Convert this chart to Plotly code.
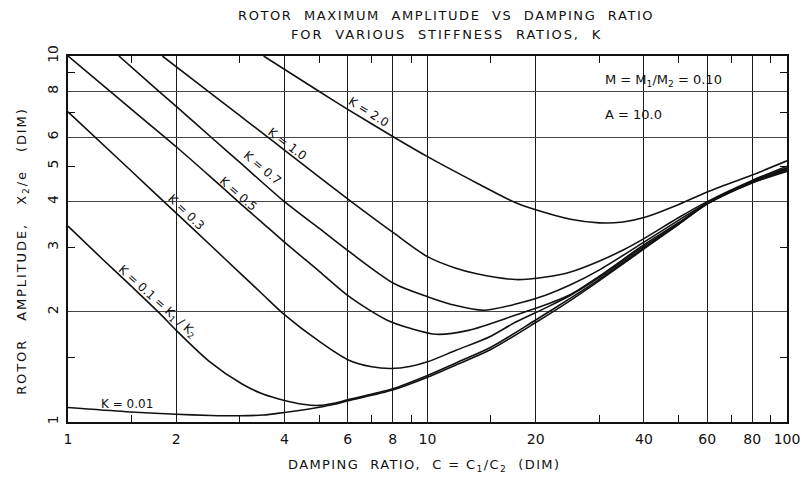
import math
import plotly.graph_objects as go

# ---------------- data ----------------
k20_x = [3.5, 5, 6, 8.07, 10, 13.7, 17.6, 20, 25, 30, 35, 40, 50, 60, 80, 100]
k20_y = [10, 8.0, 7.15, 6.0, 5.31, 4.5, 3.97, 3.8, 3.58, 3.5, 3.52, 3.62, 3.93, 4.25, 4.73, 5.17]

k10_x = [1.83, 2.42, 3.0, 3.55, 4.0, 5.0, 6.06, 8.07, 10, 12, 13.7, 17.6, 21.3, 25, 30, 35, 40, 50, 60, 80, 100]
k10_y = [10, 8.09, 6.88, 6.06, 5.53, 4.67, 4.04, 3.28, 2.83, 2.63, 2.54, 2.45, 2.49, 2.57, 2.75, 2.95, 3.17, 3.62, 4.0, 4.57, 5.0]

k07_x = [1.385, 1.8, 2.0, 2.52, 3.0, 4.0, 5.0, 6.06, 8.07, 10, 12, 14.3, 17.6, 21.3, 25, 30, 40, 50, 60, 80, 100]
k07_y = [10, 7.97, 7.28, 5.96, 5.13, 4.0, 3.38, 2.92, 2.39, 2.2, 2.08, 2.02, 2.1, 2.22, 2.37, 2.6, 3.1, 3.56, 3.97, 4.54, 4.95]

k05_x = [1, 1.3, 1.6, 2, 2.5, 3, 3.5, 4, 5, 6.06, 7.7, 9, 10.6, 13, 17.6, 21.3, 25, 30, 40, 50, 60, 80, 100]
k05_y = [10, 8.06, 6.79, 5.65, 4.66, 3.97, 3.48, 3.1, 2.58, 2.2, 1.9, 1.8, 1.736, 1.78, 1.96, 2.09, 2.23, 2.5, 3.05, 3.51, 3.96, 4.53, 4.92]

k03_x = [1, 1.5, 2, 2.5, 3, 3.5, 4, 5, 6, 7, 7.9, 9, 10, 12, 14.9, 17.6, 21.3, 25, 30, 40, 50, 60, 80, 100]
k03_y = [7.04, 4.85, 3.72, 3.03, 2.56, 2.22, 1.965, 1.66, 1.48, 1.415, 1.40, 1.42, 1.46, 1.57, 1.71, 1.875, 2.05, 2.22, 2.48, 3.02, 3.48, 3.95, 4.51, 4.89]

k01_x = [1, 1.25, 1.5, 1.8, 2, 2.46, 3.05, 3.5, 4, 4.5, 5, 5.5, 6, 8, 10, 12, 15, 20, 25, 30, 40, 50, 60, 80, 100]
k01_y = [3.43, 2.78, 2.35, 1.98, 1.78, 1.47, 1.27, 1.19, 1.145, 1.118, 1.11, 1.125, 1.15, 1.232, 1.34, 1.45, 1.6, 1.9, 2.18, 2.45, 2.99, 3.48, 3.95, 4.51, 4.86]

k001_x = [1, 1.45, 2, 2.5, 3, 3.5, 4, 4.5, 5, 5.5, 6, 8, 10, 12, 15, 20, 25, 30, 40, 50, 60, 80, 100]
k001_y = [1.095, 1.067, 1.05, 1.042, 1.04, 1.045, 1.062, 1.078, 1.097, 1.118, 1.143, 1.223, 1.325, 1.432, 1.578, 1.87, 2.15, 2.43, 2.97, 3.47, 3.94, 4.5, 4.84]

series = [
    (k20_x, k20_y), (k10_x, k10_y), (k07_x, k07_y), (k05_x, k05_y),
    (k03_x, k03_y), (k01_x, k01_y), (k001_x, k001_y),
]

curve_labels = ["K = 2.0", "K = 1.0", "K = 0.7", "K = 0.5", "K = 0.3",
                "K = 0.1 = K<sub>1</sub> / K<sub>2</sub>", "K = 0.01"]
label_x = [6.85, 4.07, 3.47, 2.98, 2.13, 1.77, 1.46]
label_y = [7.01, 5.75, 4.94, 4.2, 3.75, 2.13, 1.12]
label_angle = [32, 37, 40, 41, 44, 42, 0]

x_ticks = [1, 2, 4, 6, 8, 10, 20, 40, 60, 80, 100]
x_minor = [1.5, 3, 5, 7, 9, 15, 30, 50, 70, 90]
y_ticks = [1, 2, 3, 4, 5, 6, 8, 10]
y_grid = [2, 4, 6, 8]
y_minor = [1.5, 3, 5, 7, 9]

FONT = "DejaVu Sans"
INK = "#111111"


def spaced(txt, px):
    return '<span style="letter-spacing:%spx">%s</span>' % (px, txt)


fig = go.Figure()
for xs, ys in series:
    fig.add_trace(go.Scatter(x=xs, y=ys, mode="lines",
                             line=dict(color=INK, width=1.6, shape="spline", smoothing=0.8),
                             showlegend=False, hoverinfo="skip"))

fig.update_layout(
    width=804, height=474, autosize=False,
    margin=dict(l=60, r=19, t=48, b=60),
    paper_bgcolor="white", plot_bgcolor="white",
    font=dict(family=FONT, color=INK, size=13),
    showlegend=False,
    xaxis=dict(type="log", range=[0, 2], tickmode="array", tickvals=x_ticks,
               ticktext=[str(v) for v in x_ticks], ticks="", showgrid=True,
               gridcolor="#1a1a1a", gridwidth=1.2, showline=True, linecolor=INK,
               linewidth=1.5, mirror="ticks", zeroline=False, ticklabelstandoff=3,
               tickfont=dict(family=FONT, size=14, color=INK),
               minor=dict(tickmode="array", tickvals=x_minor, ticks="inside",
                          ticklen=7, tickcolor=INK, tickwidth=1.2, showgrid=False)),
    yaxis=dict(type="log", range=[0, 1], tickmode="array", tickvals=y_ticks,
               ticktext=[str(v) for v in y_ticks], tickangle=-90, ticks="",
               showgrid=False, showline=True, linecolor=INK, linewidth=1.5,
               mirror="ticks", zeroline=False, ticklabelstandoff=3,
               tickfont=dict(family=FONT, size=14, color=INK),
               minor=dict(tickmode="array", tickvals=y_minor, ticks="inside",
                          ticklen=7, tickcolor=INK, tickwidth=1.2, showgrid=False)),
    yaxis2=dict(type="log", range=[0, 1], overlaying="y", side="left",
                tickmode="array", tickvals=y_grid, showticklabels=False, ticks="",
                showgrid=True, gridcolor="#444444", gridwidth=1.2, showline=False,
                zeroline=False),
)
fig.add_trace(go.Scatter(x=[1, 100], y=[1, 10], yaxis="y2", mode="lines",
                         line=dict(width=0), opacity=0, showlegend=False, hoverinfo="skip"))

# white panel behind the parameter note
fig.add_shape(type="rect", xref="paper", yref="paper", x0=0.738, x1=0.934,
              y0=0.8115, y1=0.996, fillcolor="white", line=dict(width=0), layer="between")

ann = []
for txt, lx, ly, ang in zip(curve_labels, label_x, label_y, label_angle):
    ann.append(dict(x=math.log10(lx), y=math.log10(ly), xref="x", yref="y", text=txt,
                    textangle=ang, showarrow=False, xanchor="center", yanchor="middle",
                    font=dict(family=FONT, size=12, color=INK)))

ann += [
    dict(text=spaced("ROTOR  MAXIMUM  AMPLITUDE  VS  DAMPING  RATIO", 1.6), xref="paper", yref="paper",
         x=0.5255, y=1.1107, showarrow=False, xanchor="center", yanchor="middle",
         font=dict(family=FONT, size=13, color=INK)),
    dict(text=spaced("FOR  VARIOUS  STIFFNESS  RATIOS,  K", 1.85), xref="paper", yref="paper",
         x=0.5262, y=1.0587, showarrow=False, xanchor="center", yanchor="middle",
         font=dict(family=FONT, size=13, color=INK)),
    dict(text=spaced("DAMPING  RATIO,  C = C<sub>1</sub>/C<sub>2</sub>  (DIM)", 1.4), xref="paper", yref="paper",
         x=0.4945, y=-0.1175, showarrow=False, xanchor="center", yanchor="middle",
         font=dict(family=FONT, size=13, color=INK)),
    dict(text=spaced("ROTOR   AMPLITUDE,   X<sub>2</sub>/e   (DIM)", 1.9), xref="paper", yref="paper",
         x=-0.0634, y=0.466, textangle=-90, showarrow=False, xanchor="center", yanchor="middle",
         font=dict(family=FONT, size=13, color=INK)),
    dict(text="M = M<sub>1</sub>/M<sub>2</sub> = 0.10", xref="paper", yref="paper",
         x=0.7434, y=0.9344, showarrow=False, xanchor="left", yanchor="middle",
         font=dict(family=FONT, size=13, color=INK)),
    dict(text="A = 10.0", xref="paper", yref="paper",
         x=0.7434, y=0.8415, showarrow=False, xanchor="left", yanchor="middle",
         font=dict(family=FONT, size=13, color=INK)),
]
fig.update_layout(annotations=ann)

fig.write_html("out.html")
